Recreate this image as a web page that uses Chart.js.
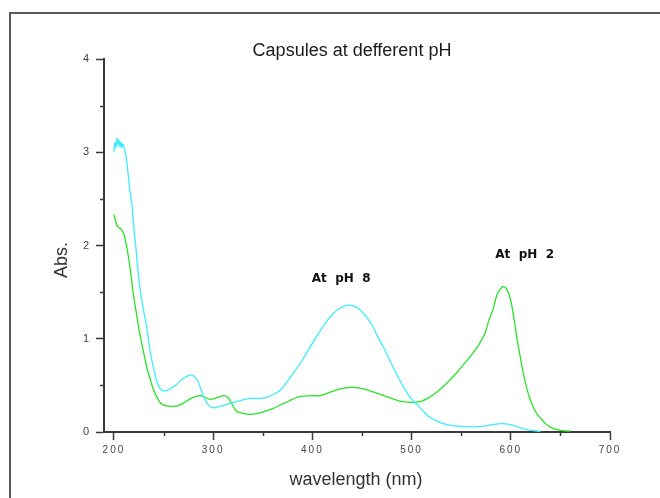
<!DOCTYPE html>
<html>
<head>
<meta charset="utf-8">
<script src="https://cdn.jsdelivr.net/npm/chart.js@4"></script>
<style>
  html, body { margin: 0; padding: 0; background: #fff; }
  canvas { display: block; }
</style>
</head>
<body>
<canvas id="spectra" width="660" height="498"></canvas>
<script>
// wavelength (nm) / absorbance
const ph8Nm = [200, 201, 202, 203, 204, 205, 206, 207, 208, 209, 210, 212, 214, 216, 218, 220, 222, 226, 230, 233, 236, 240, 244, 248, 252, 256, 262, 268, 274, 279, 284, 288, 292, 296, 300, 305, 312, 318, 325, 332, 340, 348, 356, 362, 368, 374, 380, 388, 396, 404, 412, 420, 428, 436, 442, 448, 454, 460, 466, 472, 478, 485, 492, 498, 505, 512, 518, 525, 532, 540, 550, 560, 570, 580, 590, 597, 604, 612, 620, 630];
const ph8Abs = [3.00, 3.10, 3.05, 3.15, 3.08, 3.13, 3.06, 3.11, 3.05, 3.09, 3.06, 2.97, 2.80, 2.60, 2.45, 2.20, 1.99, 1.56, 1.30, 1.13, 0.90, 0.68, 0.52, 0.45, 0.44, 0.46, 0.50, 0.56, 0.60, 0.61, 0.56, 0.45, 0.34, 0.28, 0.26, 0.27, 0.29, 0.31, 0.33, 0.35, 0.36, 0.36, 0.38, 0.41, 0.45, 0.53, 0.62, 0.74, 0.88, 1.02, 1.15, 1.26, 1.33, 1.36, 1.35, 1.31, 1.24, 1.15, 1.02, 0.90, 0.77, 0.62, 0.48, 0.38, 0.30, 0.22, 0.16, 0.12, 0.09, 0.07, 0.06, 0.054, 0.06, 0.075, 0.09, 0.085, 0.065, 0.04, 0.018, 0.008];

const ph2Nm = [200, 202, 204, 207, 210, 213, 216, 220, 223, 226, 230, 233, 237, 240, 244, 248, 253, 258, 264, 270, 276, 282, 287, 292, 297, 302, 307, 311, 315, 320, 324, 330, 337, 345, 352, 360, 368, 376, 384, 392, 400, 408, 416, 424, 432, 440, 448, 456, 464, 472, 480, 488, 496, 504, 510, 516, 522, 530, 538, 545, 552, 560, 568, 574, 578, 582, 586, 590, 593, 596, 599, 602, 606, 610, 614, 618, 622, 626, 630, 635, 640, 645, 650, 655, 660];
const ph2Abs = [2.33, 2.25, 2.20, 2.18, 2.12, 1.98, 1.78, 1.45, 1.25, 1.06, 0.85, 0.70, 0.55, 0.45, 0.36, 0.30, 0.28, 0.275, 0.28, 0.31, 0.35, 0.38, 0.39, 0.37, 0.35, 0.36, 0.38, 0.39, 0.37, 0.28, 0.22, 0.20, 0.19, 0.20, 0.22, 0.25, 0.29, 0.33, 0.37, 0.385, 0.39, 0.39, 0.42, 0.45, 0.47, 0.48, 0.47, 0.45, 0.42, 0.39, 0.36, 0.33, 0.32, 0.32, 0.33, 0.36, 0.40, 0.47, 0.55, 0.63, 0.72, 0.82, 0.94, 1.06, 1.20, 1.31, 1.47, 1.54, 1.56, 1.53, 1.45, 1.30, 1.02, 0.78, 0.56, 0.40, 0.28, 0.20, 0.15, 0.09, 0.05, 0.03, 0.018, 0.012, 0.01];

const xTicks = [200, 300, 400, 500, 600, 700];
const xMinorTicks = [250, 350, 450, 550, 650];
const yTicks = [0, 1, 2, 3, 4];
const yMinorTicks = [0.5, 1.5, 2.5, 3.5];

// labels placed in data units
const notes = [
  { text: "At  pH  8", x: 429, y: 1.64 },
  { text: "At  pH  2", x: 614, y: 1.90 }
];

function toPoints(xs, ys) {
  return xs.map((x, i) => ({ x: x, y: ys[i] }));
}

const axisColor = "#3a3a3a";

const decorations = {
  id: "decorations",
  beforeDraw(chart) {
    const ctx = chart.ctx;
    ctx.save();
    ctx.fillStyle = "#fff";
    ctx.fillRect(0, 0, chart.width, chart.height);
    // outer frame, runs off the right and bottom edges
    ctx.strokeStyle = "#5a5a5a";
    ctx.lineWidth = 2;
    ctx.strokeRect(10, 13, 720, 600);
    ctx.restore();
    ctx.letterSpacing = "2px";
  },
  beforeDatasetsDraw(chart) {
    chart.ctx.letterSpacing = "0px";
  },
  afterDraw(chart) {
    const ctx = chart.ctx;
    const xs = chart.scales.x, ys = chart.scales.y;
    const area = chart.chartArea;
    ctx.save();
    ctx.letterSpacing = "0px";
    // minor ticks
    ctx.strokeStyle = axisColor;
    ctx.lineWidth = 1.5;
    ctx.beginPath();
    xMinorTicks.forEach(v => {
      const px = Math.round(xs.getPixelForValue(v)) + 0.5;
      ctx.moveTo(px, area.bottom);
      ctx.lineTo(px, area.bottom + 4);
    });
    yMinorTicks.forEach(v => {
      const py = Math.round(ys.getPixelForValue(v)) + 0.5;
      ctx.moveTo(area.left, py);
      ctx.lineTo(area.left - 4, py);
    });
    ctx.stroke();

    // title and axis titles
    ctx.fillStyle = "#1a1a1a";
    ctx.textAlign = "center";
    ctx.textBaseline = "middle";
    ctx.font = "18px 'Liberation Sans', Arial, sans-serif";
    ctx.fillText("Capsules at defferent pH", 352, 51);
    ctx.fillStyle = "#333";
    ctx.fillText("wavelength (nm)", 356, 480);
    ctx.save();
    ctx.translate(62, 260);
    ctx.rotate(-Math.PI / 2);
    ctx.fillText("Abs.", 0, 0);
    ctx.restore();

    // curve labels
    ctx.fillStyle = "#111";
    ctx.font = "bold 12px 'DejaVu Sans', sans-serif";
    notes.forEach(n => {
      ctx.fillText(n.text, xs.getPixelForValue(n.x), ys.getPixelForValue(n.y));
    });
    ctx.restore();
  }
};

const ctx1 = document.getElementById("spectra").getContext("2d");
var chart1 = new Chart(ctx1, {
  type: "scatter",
  data: {
    datasets: [
      {
        label: "pH 8",
        data: toPoints(ph8Nm, ph8Abs),
        showLine: true,
        borderColor: "rgb(60, 238, 250)",
        borderWidth: 1.3,
        pointRadius: 0,
        tension: 0.35,
      },
      {
        label: "pH 2",
        data: toPoints(ph2Nm, ph2Abs),
        showLine: true,
        borderColor: "rgb(40, 228, 40)",
        borderWidth: 1.3,
        pointRadius: 0,
        tension: 0.35,
      },
    ],
  },
  options: {
    responsive: false,
    animation: false,
    devicePixelRatio: 1,
    layout: {
      padding: { left: 0, right: 50, top: 59, bottom: 0 },
    },
    scales: {
      x: {
        type: "linear",
        min: 190,
        max: 700,
        afterBuildTicks: s => { s.ticks = xTicks.map(v => ({ value: v })); },
        afterFit: s => { s.height = 66; },
        ticks: {
          autoSkip: false,
          maxRotation: 0,
          padding: 4,
          color: "#444",
          font: { family: "'Liberation Sans', Arial, sans-serif", size: 10 },
        },
        grid: {
          drawOnChartArea: false,
          drawTicks: true,
          tickLength: 8,
          tickColor: axisColor,
          tickWidth: 1.5,
        },
        border: { color: axisColor, width: 2 },
      },
      y: {
        min: 0,
        max: 4,
        afterBuildTicks: s => { s.ticks = yTicks.map(v => ({ value: v })); },
        afterFit: s => { s.width = 104; },
        ticks: {
          autoSkip: false,
          padding: 5,
          color: "#444",
          font: { family: "'Liberation Sans', Arial, sans-serif", size: 11 },
        },
        grid: {
          drawOnChartArea: false,
          drawTicks: true,
          tickLength: 8,
          tickColor: axisColor,
          tickWidth: 1.5,
        },
        border: { color: axisColor, width: 2 },
      },
    },
    plugins: {
      legend: { display: false },
      tooltip: { enabled: false },
      title: { display: false },
    },
  },
  plugins: [decorations],
});
</script>
</body>
</html>
